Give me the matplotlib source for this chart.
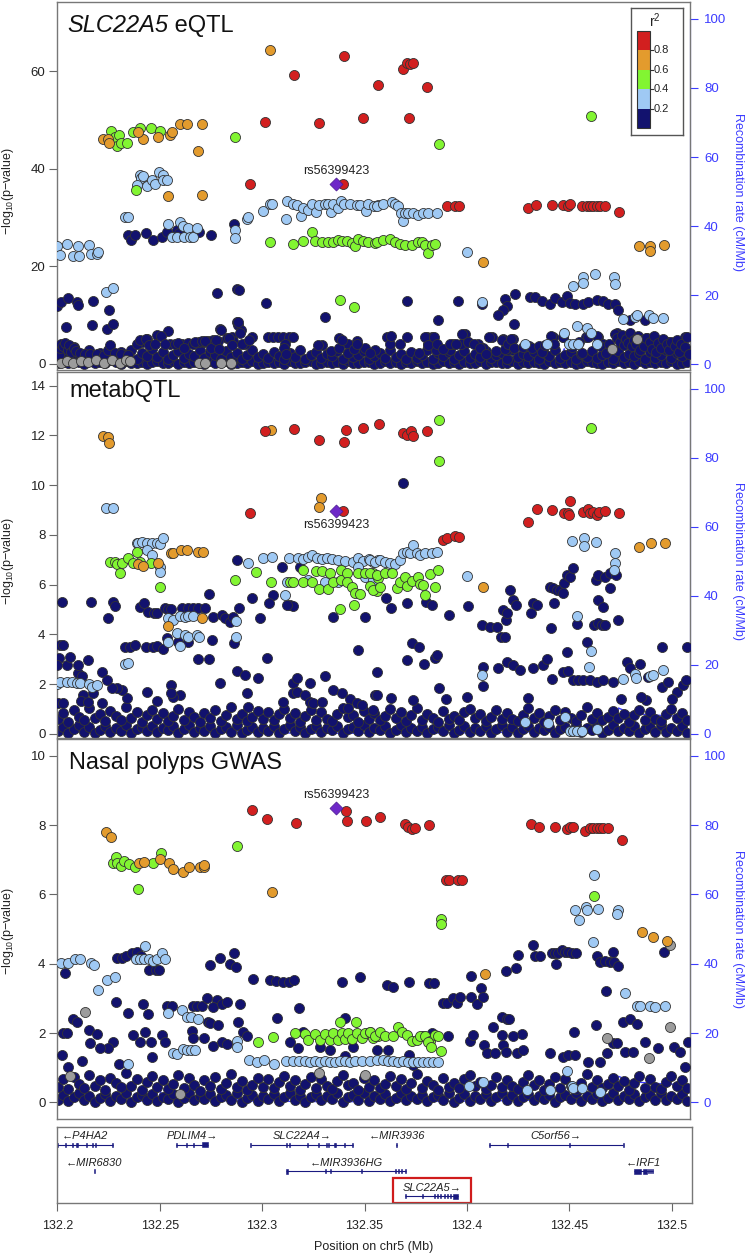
import numpy as np
import matplotlib.pyplot as plt
from matplotlib.patches import Rectangle

plt.rcParams['font.family'] = ['Liberation Sans', 'DejaVu Sans']
plt.rcParams['mathtext.fontset'] = 'custom'
plt.rcParams['mathtext.rm'] = 'Liberation Sans'
plt.rcParams['mathtext.it'] = 'Liberation Sans:italic'

# region on chr5 in Mb; SNP / gene positions below are kb from START_MB
START_MB = 132.2
END_MB = 132.5089

lead_snp = 'rs56399423'
lead_kb = 136.0
lead_p = [36.8, 8.96, 8.51]   # eQTL, metabQTL, nasal polyps

r2_breaks = [0.2, 0.4, 0.6, 0.8]

# ---------------- SLC22A5 eQTL ----------------
eqtl_red = [(140.1,63.2),(115.7,59.3),(156.4,57.2),(101.6,49.6),(127.8,49.4),(149.3,50.4),(94.1,37.0),(139.6,36.8),
            (168.6,60.4),(170.6,61.8),(172.2,61.5),(173.5,61.8),(171.9,50.4),(180.3,56.7),(190.1,32.4),(194.2,32.4),
            (196.3,32.4),(230.0,31.9),(233.9,32.5),(241.4,32.5),(247.1,32.5),(249.5,32.4),(250.3,32.8),(256.0,32.4),
            (258.5,32.4),(260.1,32.4),(261.7,32.4),(263.3,32.4),(265.0,32.4),(267.4,32.4),(274.2,31.2)]
eqtl_orange = [(103.8,64.4),(22.5,46.1),(24.9,46.1),(25.4,45.3),(42.0,46.1),(39.2,47.6),(49.3,46.5),(55.0,47.0),
               (55.8,47.6),(59.9,49.2),(63.5,49.2),(70.6,49.2),(68.8,43.7),(53.9,34.4),(70.5,34.7),(207.7,21.0),
               (284.2,24.1),(289.4,24.2),(289.4,23.1),(296.4,24.3)]
eqtl_green = [(26.2,47.8),(28.2,46.6),(30.3,47.0),(29.3,44.6),(30.9,45.3),(33.9,45.3),(36.8,47.6),(40.4,48.3),
              (45.6,48.3),(50.1,47.8),(38.4,35.7),(86.8,46.6),(138.0,13.1),(145.0,11.6),(186.4,45.1),(260.6,50.9),
              (103.8,25.1),(114.9,24.6),(119.8,25.3),(124.2,27.1),(125.8,25.3),(129.1,25.1),(132.3,25.1),(134.8,25.1),
              (137.2,25.4),(138.8,25.3),(141.3,25.3),(143.7,24.9),(145.3,24.1),(147.0,25.6),(149.4,25.3),(151.9,25.1),
              (155.1,24.9),(155.9,25.1),(159.2,25.4),(162.4,25.6),(164.9,25.1),(167.3,24.7),(169.8,24.4),(173.0,24.4),
              (176.3,25.1),(177.9,25.1),(179.5,24.4),(181.1,22.7),(182.8,24.4),(184.4,24.7)]
eqtl_lblue = [(0.0,24.1),(1.3,22.4),(4.6,24.6),(7.8,22.1),(10.7,22.1),(10.3,24.1),(15.6,24.4),(16.3,22.6),(19.5,22.6),
              (20.0,23.0),(23.8,14.8),(27.0,15.5),(33.0,30.1),(34.3,30.1),(40.4,38.8),(40.7,38.1),(42.0,38.6),(39.1,36.7),
              (43.6,36.4),(46.1,37.7),(47.7,37.0),(49.8,39.4),(51.8,38.8),(51.4,37.7),(53.4,37.7),(53.9,28.7),(55.8,26.1),
              (58.3,26.1),(59.9,29.2),(61.5,28.2),(61.8,26.1),(64.0,27.8),(64.8,26.1),(66.4,26.0),(68.0,27.8),(86.8,27.5),
              (86.8,25.9),(92.4,29.7),(93.3,30.1),(100.6,31.4),(103.8,32.8),(104.8,32.7),(111.7,29.7),(112.3,33.5),
              (115.2,32.8),(116.9,32.6),(118.8,30.3),(119.8,31.9),(122.6,31.6),(124.2,32.8),(126.3,31.2),(127.8,32.6),
              (130.7,32.8),(132.3,32.8),(133.6,31.2),(134.8,32.8),(137.2,31.9),(138.7,33.5),(140.1,32.8),(142.9,32.8),
              (146.2,32.6),(147.8,32.6),(150.7,31.4),(151.9,32.8),(154.6,32.3),(156.7,32.6),(155.9,32.4),(159.2,32.8),
              (163.2,33.3),(164.9,32.9),(166.5,32.3),(167.6,30.9),(168.6,29.4),(169.8,30.9),(171.4,30.9),(173.8,30.9),
              (176.3,30.6),(178.7,30.9),(181.1,30.9),(185.2,30.9),(200.0,23.0),(207.2,12.8),(251.6,16.0),(256.8,17.8),
              (256.8,16.7),(262.7,18.5),(272.0,17.8),(272.3,16.5),(276.4,9.2),(282.1,9.6),(282.9,10.0),(289.1,10.0),
              (291.0,9.4),(295.6,9.4),(228.4,4.2),(239.3,4.2),(247.4,6.3),(253.6,7.7),(258.5,7.3),(260.4,6.3),
              (263.7,4.2),(250.0,4.2),(252.0,4.2),(254.4,4.2)]
eqtl_navy = [(34.7,26.5),(35.8,25.4),(37.9,26.5),(43.1,26.8),(46.5,25.4),(51.3,26.1),(53.4,27.1),(58.6,27.5),(59.6,26.8),
             (69.3,27.0),(74.9,26.5),(86.4,28.7),(0.0,11.8),(1.6,12.8),(5.4,13.6),(9.4,12.8),(10.3,12.1),(17.3,12.9),
             (25.4,11.1),(4.2,7.5),(16.8,7.9),(24.4,7.1),(27.0,8.2),(77.8,14.5),(87.6,15.3),(88.9,15.2),(101.9,12.6),
             (130.7,9.6),(87.6,8.7),(88.4,8.0),(89.5,7.0),(79.4,7.1),(170.6,13.0),(195.8,13.0),(186.0,9.0),(223.5,14.4),
             (218.6,13.3),(219.4,11.9),(217.8,11.1),(215.3,10.0),(230.8,13.8),(233.2,13.8),(236.8,13.0),(240.6,12.3),
             (243.0,13.5),(246.3,12.8),(248.7,14.0),(250.3,12.6),(252.8,12.3),(256.8,12.3),(259.3,12.8),(263.3,13.1),
             (266.6,13.0),(269.0,12.4),(272.3,12.3),(273.9,11.1),(279.6,9.0),(287.0,9.0),(223.0,8.2),(207.2,12.4),
             (54.2,6.8),(48.5,5.9),(43.6,5.1),(41.2,4.6),(55.0,4.2),(57.5,4.2),(60.7,4.2),(64.0,4.4),(66.4,4.2),
             (69.3,4.6),(71.6,4.6),(73.7,4.8),(76.2,4.9),(78.6,4.8),(79.8,7.0),(82.7,5.3),(85.1,5.5),(85.9,4.8),
             (89.2,6.3),(91.6,4.2),(94.9,5.5),(103.0,5.6),(105.5,5.5),(107.9,5.5),(110.4,5.5),(113.3,5.5),(114.9,5.5),
             (111.2,4.2),(111.2,2.9),(129.1,3.9),(137.7,5.3),(142.1,4.2),(146.5,4.8),(150.2,3.2),(155.1,2.9),
             (160.8,5.5),(162.4,4.2),(170.6,5.5),(180.3,5.5),(182.8,5.5),(181.1,4.2),(184.9,2.9),(191.7,2.9),
             (193.0,4.2),(196.9,4.2),(199.1,6.2),(200.7,4.6),(205.6,4.2),(207.7,3.2),(212.1,5.5),(217.8,5.1),
             (222.6,5.1),(219.4,2.9),(242.2,5.6),(247.1,5.5),(258.1,5.5),(264.2,5.6),(266.6,4.2),(273.1,6.3),
             (276.4,4.2),(281.2,5.5),(284.5,4.9),(287.7,5.3),(291.0,4.9),(295.9,4.2),(298.3,4.6),(306.5,5.5),
             (0.8,1.8),(1.2,3.2),(1.6,4.0),(3.0,3.6),(4.0,4.3),(5.0,2.8),(5.6,3.9),(6.8,2.5),(8.0,3.3),(9.3,2.7),
             (11.3,2.2),(13.5,2.0),(16.0,2.1),(19.5,2.0),(23.0,1.9),(24.8,2.9),(25.6,3.8),(28.0,2.3),(31.0,2.0),
             (34.5,1.8),(39.0,4.2),(40.5,4.9),(43.5,5.2),(45.0,3.8),(47.5,4.2),(50.5,5.8),(52.5,4.1),(59.0,4.4),
             (62.0,3.3),(67.0,4.6),(70.5,4.7),(72.0,4.8),(75.0,3.2),(77.5,4.9),(79.0,3.0),(84.0,5.4),(85.5,3.8),
             (88.0,8.6),(90.0,4.1),(93.5,4.9),(110.5,3.3),(111.5,2.1),(127.5,3.9),(133.5,2.6),(137.5,3.2),
             (139.0,4.9),(142.0,2.3),(145.0,3.1),(146.5,4.0),(152.5,2.2),(163.0,5.8),(167.5,4.1),(176.5,2.2),
             (179.5,5.5),(181.0,3.8),(184.0,5.5),(185.5,4.2),(188.5,3.1),(191.5,4.2),(194.5,4.2),(197.5,6.2),
             (200.5,4.5),(203.5,4.2),(206.5,3.2),(209.5,2.0),(211.0,5.5),(214.0,2.6),(217.0,5.0),(218.5,3.0),
             (220.0,4.0),(221.5,5.1),(223.0,3.3),(227.5,3.4),(230.5,3.6),(232.0,3.3),(235.0,3.6),(236.5,2.5),
             (238.0,3.8),(241.0,5.7),(242.5,4.0),(247.0,5.5),(251.5,3.5),(254.5,4.6),(256.0,2.3),(259.0,5.6),
             (263.5,5.7),(265.0,3.6),(268.0,2.2),(269.5,4.1),(272.5,6.1),(273.5,5.3),(274.5,4.6),(275.5,6.0),
             (276.5,3.9),(277.5,5.2),(278.5,4.4),(279.5,6.3),(280.5,3.7),(281.5,5.0),(282.5,4.2),(283.5,5.8),
             (284.5,2.9),(285.5,4.9),(286.5,3.6),(287.5,5.4),(289.5,4.5),(290.5,3.1),(291.5,5.8),(292.5,2.4),
             (293.5,4.4),(294.5,3.3),(295.5,5.1),(297.5,4.0),(298.5,2.9),(299.5,4.6),(301.5,3.7),(302.5,5.0),
             (303.5,2.5),(304.5,4.2),(306.5,3.4),(307.5,5.5),(308.5,2.1)]
eqtl_gray = [(1.8,0.2),(4.8,0.6),(7.9,0.3),(11.8,0.7),(14.8,0.4),(19.0,0.9),(22.6,0.3),(26.8,0.8),(30.5,0.3),
             (33.6,0.9),(35.5,0.6),(69.0,0.3),(72.0,0.2),(80.0,0.3),(85.0,0.2),(271.0,3.0),(283.0,5.2)]

# shared positions of the many weak SNPs forming the dense floor of each panel
base_kb = [0.4,2.9,5.3,8.1,10.6,13.2,15.5,18.3,20.9,23.4,25.8,28.5,31.1,33.7,36.0,38.8,41.3,43.9,46.2,48.9,
           51.6,54.0,56.7,59.1,61.8,64.4,66.9,69.5,71.8,74.6,77.2,79.7,82.3,84.8,87.5,90.1,92.6,95.2,97.9,100.3,
           103.0,105.6,108.1,110.7,113.4,115.9,118.5,121.0,123.7,126.2,128.8,131.5,134.0,136.6,139.3,141.8,144.4,
           147.0,149.6,152.1,154.8,157.4,159.9,162.5,165.2,167.7,170.3,172.9,175.5,178.0,180.7,183.3,185.8,188.4,
           191.1,193.6,196.2,198.8,201.4,204.0,206.5,209.2,211.7,214.3,217.0,219.5,222.1,224.7,227.3,229.9,232.5,
           235.0,237.7,240.2,242.8,245.5,248.0,250.6,253.2,255.8,258.4,261.0,263.5,266.1,268.8,271.3,273.9,276.5,
           279.1,281.7,284.2,286.9,289.5,292.0,294.7,297.2,299.8,302.4,305.0,307.6]
eqtl_base_lo = [0.3,0.6,0.2,0.9,0.4,0.1,0.7,0.3,0.5,0.2,0.8,0.4,0.1,0.6,0.3,0.2,0.5,0.1,0.4,0.7,0.2,0.3,0.6,0.1,
                0.4,0.2,0.5,0.3,0.1,0.6,0.2,0.4,0.7,0.1,0.3,0.5,0.2,0.6,0.1,0.3,0.4,0.2,0.5,0.1,0.7,0.3,0.2,0.4,
                0.6,0.1,0.3,0.5,0.2,0.4,0.1,0.6,0.3,0.2,0.5,0.4,0.1,0.3,0.6,0.2,0.4,0.1,0.5,0.3,0.7,0.2,0.4,0.1,
                0.3,0.6,0.2,0.5,0.1,0.4,0.3,0.2,0.6,0.1,0.4,0.5,0.2,0.3,0.7,0.1,0.4,0.2,0.5,0.3,0.1,0.6,0.2,0.4,
                0.3,0.5,0.1,0.2,0.6,0.4,0.3,0.1,0.5,0.2,0.7,0.3,0.4,0.1,0.6,0.2,0.5,0.3,0.4,0.2,0.6,0.1,0.3,0.5]
eqtl_base_hi = [1.8,2.6,1.2,3.4,2.0,1.5,2.9,1.1,2.3,1.7,3.1,1.3,2.4,1.9,2.8,1.0,2.2,1.6,3.0,1.4,2.5,1.1,1.9,2.7,
                1.3,2.1,1.6,2.9,1.2,2.4,1.8,1.0,2.6,1.5,2.2,1.1,1.9,2.8,1.4,2.0,1.2,2.5,1.7,1.0,2.3,1.5,2.9,1.1,
                1.8,2.4,1.3,2.0,1.6,2.7,1.0,2.2,1.4,1.9,2.6,1.1,1.7,2.3,1.2,2.8,1.5,2.0,1.0,2.5,1.3,1.8,2.9,1.1,
                2.2,1.6,2.4,1.0,1.9,2.7,1.3,2.1,1.5,2.6,1.2,1.8,2.3,1.0,2.8,1.4,2.0,1.7,2.5,1.1,2.2,1.6,2.9,1.3,
                1.9,2.4,1.0,2.1,1.5,2.7,1.2,1.8,2.4,1.1,2.6,1.4,2.0,1.7,2.3,1.0,2.5,1.3,1.9,2.8,1.2,2.2,1.6,2.4]

# ---------------- metabQTL ----------------
metab_red = [(101.6,12.19),(115.7,12.25),(127.9,11.82),(141.0,12.22),(140.1,11.75),(149.4,12.29),(157.2,12.46),
             (94.1,8.87),(139.6,8.96),(168.6,12.11),(170.6,12.02),(172.5,12.19),(173.5,11.98),(180.3,12.19),
             (188.5,7.80),(190.4,7.86),(194.2,7.96),(196.3,7.90),(230.0,8.53),(234.0,9.03),(241.4,9.00),(247.6,8.90),
             (249.5,8.90),(250.0,8.80),(250.3,9.38),(256.5,8.94),(259.3,9.03),(260.1,8.87),(261.7,8.94),(263.3,8.80),
             (264.6,8.94),(267.4,8.98),(274.4,8.87)]
metab_orange = [(22.5,11.98),(24.9,11.95),(25.2,11.68),(104.2,12.22),(128.6,9.47),(127.9,9.14),(39.6,6.83),
                (42.0,6.77),(49.3,6.86),(55.5,7.26),(56.3,7.29),(60.4,7.40),(63.5,7.40),(68.8,7.30),(71.0,7.30),
                (53.9,4.35),(70.6,4.65),(207.7,5.89),(284.2,7.50),(289.7,7.66),(296.7,7.66)]
metab_green = [(38.7,7.30),(50.1,5.89),(25.7,6.93),(28.2,6.93),(29.3,6.83),(31.4,6.89),(34.7,7.06),(36.8,6.86),
               (30.6,6.48),(45.6,6.86),(40.4,6.93),(86.8,6.19),(97.0,6.52),(104.2,6.12),(113.6,6.12),(115.2,6.12),
               (119.8,6.59),(119.8,6.12),(124.2,6.12),(126.3,6.56),(127.9,5.81),(129.1,6.56),(132.3,5.81),(133.1,6.46),
               (134.8,6.12),(138.3,6.19),(138.3,6.59),(141.3,6.48),(138.0,5.01),(141.3,6.12),(143.7,5.92),(145.3,5.65),
               (147.8,5.63),(144.9,5.18),(147.0,6.48),(150.2,6.46),(152.7,5.95),(154.3,6.48),(155.9,5.76),(156.7,6.26),
               (186.5,12.62),(186.5,10.99),(260.6,12.29),(152.7,6.46),(154.3,5.79),(155.9,6.39),(157.5,5.92),
               (160.0,6.46),(163.2,6.46),(165.7,5.85),(167.3,6.12),(169.8,6.32),(170.6,5.95),(173.0,6.16),(176.3,6.30),
               (177.1,6.03),(178.7,5.99),(179.5,5.59),(182.0,6.43),(184.4,5.92),(186.0,6.59)]
metab_lblue = [(23.8,9.07),(27.3,9.07),(38.7,7.66),(39.6,7.69),(41.2,7.73),(43.6,7.69),(46.1,7.69),(48.5,7.69),
               (50.1,7.64),(51.8,7.86),(43.6,7.40),(46.1,7.19),(50.1,6.73),(50.1,6.52),(54.2,4.65),(56.6,4.58),
               (59.9,4.74),(62.3,4.72),(64.0,4.74),(66.1,4.74),(87.2,4.56),(87.2,3.91),(58.3,4.05),(62.3,3.98),
               (64.0,3.91),(68.0,3.98),(69.3,3.91),(53.9,3.71),(59.9,3.54),(0.0,2.01),(1.3,2.10),(4.6,2.10),(7.0,2.10),
               (9.4,2.06),(11.1,2.04),(15.6,2.01),(16.8,1.90),(19.5,1.97),(33.0,2.81),(34.7,2.87),(93.3,6.89),
               (100.6,7.06),(104.7,7.10),(113.3,7.06),(117.7,7.06),(120.1,7.02),(122.6,7.13),(124.2,7.19),(126.6,7.06),
               (129.1,7.02),(131.5,7.06),(134.0,7.02),(137.2,6.99),(140.5,6.97),(144.5,6.93),(147.0,7.06),(149.4,6.97),
               (152.3,7.05),(154.3,6.93),(156.7,6.99),(112.0,6.12),(111.2,5.59),(122.6,6.19),(130.7,6.12),(137.2,6.12),
               (147.0,6.73),(150.2,6.32),(154.3,6.19),(152.7,6.99),(155.1,6.93),(157.5,6.99),(160.0,6.93),(162.4,6.86),
               (164.9,6.83),(167.3,6.99),(168.9,7.26),(170.6,7.33),(172.2,7.29),(173.5,7.60),(175.5,7.26),(177.1,7.19),
               (179.5,7.29),(182.8,7.29),(185.2,7.33),(200.2,6.35),(251.5,7.77),(257.3,7.89),(257.3,7.56),(262.9,7.73),
               (272.3,7.29),(272.3,6.89),(272.0,6.59),(207.2,2.37),(282.1,2.40),(282.5,2.24),(289.4,2.33),(291.0,2.37),
               (295.9,2.57),(276.4,2.20),(253.9,4.76),(260.4,3.34),(259.8,2.71),(228.4,0.50),(239.7,0.46),(247.9,0.67),
               (250.3,0.13),(252.0,0.13),(253.6,0.13),(256.0,0.13),(263.7,0.19)]
metab_navy = [(2.1,5.32),(16.3,5.32),(24.9,4.65),(27.3,5.32),(28.2,5.14),(40.4,5.12),(42.3,5.25),(44.4,4.92),
              (47.2,4.85),(48.8,4.85),(52.6,5.05),(54.2,5.01),(55.3,5.01),(60.7,5.05),(64.0,5.05),(66.4,5.05),
              (68.8,5.05),(72.1,5.05),(74.2,5.63),(76.2,4.72),(80.2,4.78),(81.9,4.65),(84.3,4.51),(85.9,4.72),
              (88.9,5.05),(87.9,6.99),(94.9,5.45),(99.0,4.65),(105.5,5.59),(109.5,6.73),(113.6,5.18),(114.9,5.14),
              (112.3,5.18),(103.5,5.28),(118.5,6.73),(134.8,4.72),(150.2,4.72),(147.0,3.38),(155.9,2.51),(155.1,1.57),
              (1.3,3.58),(2.9,3.58),(15.1,2.97),(33.0,3.51),(35.5,3.51),(37.9,3.58),(43.3,3.48),(46.9,3.51),(48.5,3.54),
              (51.4,3.40),(53.4,3.85),(59.1,3.71),(64.0,3.71),(68.8,3.00),(74.2,3.00),(75.4,3.78),(86.4,3.67),
              (102.2,3.04),(98.1,2.24),(87.6,2.55),(91.6,2.37),(92.4,1.63),(93.3,1.10),(79.4,2.06),(59.9,1.57),
              (56.6,1.50),(55.3,1.97),(55.5,1.66),(48.5,1.34),(43.6,1.70),(33.9,1.43),(31.4,1.77),(29.0,1.84),
              (26.5,1.84),(21.6,2.51),(24.4,2.17),(17.6,1.63),(12.7,1.57),(11.6,1.34),(21.6,1.23),(10.3,2.44),
              (10.3,2.77),(4.6,2.77),(1.0,3.04),(0.0,2.77),(6.2,3.11),(11.9,2.33),(15.1,1.30),(0.5,1.23),(2.6,1.23),
              (134.8,1.77),(138.8,1.63),(142.9,1.39),(146.2,1.23),(148.6,1.17),(154.3,0.96),(142.1,1.03),(115.2,1.63),
              (115.2,2.04),(116.9,2.24),(116.9,1.70),(120.9,1.57),(123.4,1.30),(125.0,1.23),(129.1,1.30),(130.7,2.33),
              (110.4,1.30),(123.4,2.04),(168.6,10.08),(160.5,5.45),(162.8,5.05),(170.9,5.25),(180.0,5.32),(182.8,5.18),
              (191.4,4.78),(200.7,5.14),(207.2,4.38),(211.3,4.31),(214.5,4.31),(216.5,3.91),(218.6,3.91),(217.8,4.98),
              (219.1,4.58),(219.7,4.85),(221.0,5.79),(222.6,5.39),(224.0,5.18),(231.1,4.88),(232.4,5.25),(234.0,5.18),
              (240.6,5.92),(242.2,5.85),(243.8,5.79),(245.4,5.79),(246.7,5.65),(247.4,6.06),(248.7,6.39),(250.3,6.32),
              (251.6,6.66),(242.5,5.25),(240.9,4.25),(253.9,4.42),(263.0,6.19),(264.2,6.39),(267.4,6.32),(269.9,5.85),
              (269.9,6.46),(272.8,6.39),(273.9,4.58),(264.2,5.39),(266.6,5.12),(262.1,4.38),(264.2,4.45),(265.8,4.38),
              (267.4,4.38),(258.5,3.71),(248.7,3.31),(295.1,3.48),(173.0,3.64),(176.8,3.51),(170.6,2.97),(179.0,2.81),
              (186.5,1.84),(173.5,1.37),(184.4,3.04),(185.2,3.18),(155.9,1.57),(208.0,2.68),(208.0,1.93),(215.3,2.64),
              (219.4,2.91),(222.6,2.77),(225.9,2.57),(232.4,2.64),(237.3,2.77),(238.9,3.00),(241.4,2.20),(247.1,2.51),
              (249.2,2.55),(252.0,2.17),(254.4,2.17),(256.8,2.17),(260.1,2.17),(263.3,2.10),(266.6,2.17),(271.5,2.10),
              (278.0,2.91),(279.6,2.64),(284.5,2.81),(288.6,2.30),(287.4,1.37),(295.1,1.90),(298.3,2.10),(302.4,1.70),
              (305.7,1.97),(307.3,3.51),(307.0,2.17),(163.0,1.45),(190.0,1.40),(200.0,1.50),(230.0,1.45),(275.0,1.40),
              (285.0,1.50),(300.0,1.42)]
metab_base_lo = [0.12,0.30,0.05,0.22,0.38,0.10,0.27,0.02,0.18,0.33,0.08,0.25,0.14,0.36,0.04,0.20,0.29,0.11,0.34,
                 0.07,0.23,0.15,0.31,0.03,0.19,0.37,0.09,0.26,0.13,0.32,0.06,0.21,0.28,0.10,0.35,0.02,0.17,0.30,
                 0.08,0.24,0.14,0.33,0.05,0.22,0.38,0.11,0.27,0.04,0.19,0.31,0.09,0.25,0.16,0.34,0.03,0.21,0.29,
                 0.12,0.36,0.07,0.23,0.15,0.32,0.05,0.18,0.37,0.10,0.26,0.13,0.30,0.06,0.20,0.28,0.11,0.35,0.02,
                 0.17,0.33,0.08,0.24,0.14,0.31,0.04,0.22,0.38,0.10,0.27,0.05,0.19,0.34,0.09,0.25,0.16,0.30,0.03,
                 0.21,0.29,0.12,0.36,0.07,0.23,0.15,0.32,0.06,0.18,0.37,0.11,0.26,0.13,0.33,0.04,0.20,0.28,0.10,
                 0.35,0.08,0.24,0.14,0.31,0.05]
metab_base_hi = [0.62,0.85,0.48,0.95,0.70,0.55,1.05,0.66,0.80,0.52,0.92,0.74,0.58,1.10,0.64,0.88,0.50,0.78,0.98,
                 0.60,0.83,0.54,0.72,1.02,0.57,0.90,0.68,0.49,0.86,0.63,0.96,0.53,0.76,1.08,0.59,0.82,0.51,0.70,
                 0.94,0.61,0.87,0.55,0.79,1.00,0.65,0.84,0.48,0.73,0.97,0.58,0.89,0.62,0.52,0.81,1.04,0.67,0.75,
                 0.50,0.93,0.60,0.85,0.56,0.71,0.99,0.63,0.88,0.53,0.77,1.06,0.57,0.82,0.66,0.49,0.91,0.61,0.74,
                 0.55,0.87,1.01,0.64,0.80,0.51,0.69,0.95,0.59,0.86,0.62,0.54,0.78,1.03,0.66,0.83,0.50,0.72,0.97,
                 0.58,0.89,0.63,0.52,0.76,1.07,0.60,0.84,0.56,0.70,0.93,0.65,0.81,0.49,0.75,0.98,0.57,0.88,0.61,
                 0.53,0.79,1.00,0.64,0.85,0.55]

# ---------------- Nasal polyps GWAS ----------------
nasal_red = [(95.2,8.44),(102.5,8.17),(116.5,8.06),(140.8,8.42),(141.3,8.13),(150.6,8.13),(157.6,8.23),(169.8,8.04),
             (171.4,7.94),(173.0,7.88),(174.6,7.91),(181.6,8.01),(189.8,6.42),(191.4,6.42),(195.8,6.42),(197.4,6.42),
             (231.1,8.04),(235.2,7.94),(243.0,7.94),(248.7,7.88),(250.3,7.94),(251.6,7.96),(257.6,7.84),(260.1,7.91),
             (261.7,7.91),(263.3,7.91),(265.0,7.91),(266.6,7.91),(269.0,7.91),(275.6,7.57)]
nasal_orange = [(23.8,7.79),(26.0,7.65),(40.0,6.92),(42.3,6.93),(50.1,7.02),(54.7,6.90),(56.3,6.73),(61.2,6.66),
                (64.5,6.79),(69.7,6.80),(71.6,6.79),(71.6,6.85),(105.0,6.07),(208.8,3.70),(285.3,4.91),(290.7,4.76),
                (297.9,4.67)]
nasal_green = [(27.0,6.92),(28.6,7.07),(29.0,6.92),(31.1,6.82),(32.6,6.97),(35.2,6.87),(37.9,6.80),(46.5,6.92),
               (50.8,7.19),(39.6,6.16),(87.6,7.41),(187.2,5.28),(187.2,5.15),(262.1,5.96),(116.0,1.99),(120.9,1.97),
               (122.6,1.80),(125.8,1.97),(128.3,1.80),(130.7,1.97),(133.1,1.80),(134.8,1.99),(137.2,1.80),(138.8,1.99),
               (140.5,1.82),(142.1,1.99),(143.7,1.82),(146.2,1.99),(148.6,1.85),(150.2,1.99),(152.7,2.04),(154.3,1.85),
               (156.7,1.90),(138.0,2.33),(145.8,2.33),(105.5,1.88),(97.8,1.73),(152.7,2.04),(155.1,1.90),(157.5,2.04),
               (160.0,1.92),(164.1,1.92),(166.5,2.17),(168.1,2.04),(170.6,1.94),(173.0,1.78),(175.5,1.80),(177.1,1.92),
               (179.5,1.92),(182.0,1.78),(184.4,1.94),(186.0,1.90),(181.1,1.75),(182.3,1.59),(187.2,1.49)]
nasal_lblue = [(1.6,4.01),(5.4,4.01),(8.6,4.13),(11.1,4.13),(16.3,4.01),(17.9,3.97),(20.0,3.24),(24.4,3.53),
               (28.2,3.63),(42.8,4.51),(38.4,4.13),(40.4,4.13),(42.3,4.13),(44.9,4.13),(46.9,4.09),(48.5,4.13),
               (50.9,4.32),(52.6,4.13),(54.2,2.59),(60.7,2.67),(63.2,2.47),(65.1,2.47),(68.8,2.40),(56.6,1.43),
               (58.3,1.40),(61.2,1.53),(63.5,1.51),(65.1,1.51),(67.2,1.51),(34.7,1.10),(87.9,1.78),(87.9,1.61),
               (93.8,1.22),(97.3,1.15),(101.1,1.22),(105.8,1.11),(111.7,1.19),(115.2,1.19),(118.2,1.19),(120.9,1.19),
               (123.4,1.17),(125.8,1.19),(128.3,1.17),(130.7,1.19),(133.1,1.17),(135.6,1.17),(138.0,1.19),(140.5,1.19),
               (142.9,1.17),(145.3,1.19),(148.6,1.19),(152.7,1.19),(155.9,1.22),(159.2,1.22),(161.6,1.20),(164.1,1.20),
               (166.5,1.17),(168.9,1.20),(171.4,1.17),(173.8,1.15),(176.3,1.15),(178.7,1.15),(181.1,1.15),(183.6,1.15),
               (186.0,1.15),(262.1,6.56),(252.8,5.55),(254.9,5.25),(258.1,5.65),(258.5,5.55),(264.2,5.57),(273.9,5.55),
               (273.4,5.44),(261.4,4.64),(277.2,3.15),(282.9,2.78),(284.5,2.78),(289.4,2.78),(291.8,2.76),(296.7,2.78),
               (201.2,0.47),(208.0,0.60),(229.5,0.36),(240.6,0.36),(248.7,0.89),(251.1,0.47),(252.0,0.40),(256.0,0.40),
               (265.0,0.31)]
nasal_navy = [(3.7,3.74),(29.0,4.16),(31.4,4.16),(33.5,4.23),(36.3,4.30),(38.7,4.35),(40.7,4.21),(44.9,3.82),
              (48.2,3.82),(49.8,3.82),(74.5,3.97),(79.4,4.17),(84.3,3.99),(86.4,4.32),(87.2,3.92),(95.7,3.55),
              (103.8,3.53),(106.8,3.51),(110.0,3.46),(113.3,3.46),(115.6,3.53),(118.0,2.71),(107.4,2.43),(138.8,3.48),
              (147.8,3.61),(140.5,2.43),(28.6,2.91),(34.7,2.57),(42.0,2.84),(44.4,2.55),(53.7,2.78),(55.8,2.78),
              (66.1,2.78),(68.0,2.78),(70.5,2.78),(72.9,3.00),(77.8,2.95),(76.2,2.74),(80.2,2.84),(82.7,2.91),
              (89.2,2.84),(73.7,2.33),(74.5,2.28),(88.4,2.33),(78.6,2.23),(7.5,2.40),(9.4,2.33),(2.9,1.99),(4.6,1.99),
              (15.6,2.09),(19.5,1.97),(27.3,1.75),(24.9,1.56),(20.8,1.56),(16.0,1.70),(37.1,1.94),(40.4,1.75),
              (45.6,1.75),(42.8,2.04),(50.9,1.94),(52.6,1.75),(65.6,2.06),(66.1,1.85),(71.6,1.85),(76.2,1.63),
              (80.2,1.75),(82.7,1.68),(90.5,2.04),(92.4,1.90),(113.6,1.75),(117.7,1.56),(120.1,2.04),(128.3,1.61),
              (133.1,1.51),(140.5,1.34),(144.5,1.61),(2.1,1.37),(5.4,1.03),(12.0,1.20),(30.0,1.10),(46.0,1.30),
              (232.1,4.54),(233.2,4.21),(235.7,4.21),(225.1,4.25),(224.0,3.87),(219.1,3.80),(241.4,4.32),(243.0,4.32),
              (244.6,4.32),(246.3,4.40),(247.9,4.35),(249.5,4.35),(251.1,4.32),(253.3,4.30),(243.5,3.98),(263.7,4.21),
              (265.0,4.06),(267.4,4.08),(269.9,4.04),(271.8,4.06),(273.9,3.94),(271.2,4.35),(296.2,4.35),(267.9,3.20),
              (263.0,2.23),(252.3,2.02),(276.0,2.33),(279.6,2.40),(282.9,2.26),(160.8,3.39),(163.7,3.34),(171.9,3.46),
              (181.6,3.44),(183.9,3.44),(188.2,2.86),(190.4,2.86),(193.0,3.00),(195.3,2.86),(196.6,3.05),(201.8,3.65),
              (201.8,3.05),(204.8,2.84),(206.7,3.29),(207.7,3.05),(212.9,2.16),(217.0,2.45),(219.4,2.40),(220.7,2.40),
              (226.7,1.97),(222.6,1.92),(217.0,1.94),(201.5,1.78),(203.1,1.94),(208.3,1.66),(209.6,1.41),(213.7,1.41),
              (217.8,1.66),(219.1,1.46),(224.3,1.41),(227.5,1.51),(240.6,1.43),(247.1,1.32),(249.5,1.37),(252.8,1.37),
              (259.3,1.17),(265.0,1.17),(268.2,1.41),(271.2,1.70),(273.1,1.70),(277.2,1.46),(281.2,1.46),(287.0,1.75),
              (293.5,1.56),(301.1,1.61),(304.0,1.46),(308.1,1.75),(306.5,1.03),(190.9,1.92),(161.6,1.51),(155.9,1.51),
              (178.7,1.90),(182.8,1.99),(171.9,1.37),(173.8,1.08)]
nasal_gray = [(13.5,2.61),(268.5,1.85),(289.1,1.27),(299.2,2.18),(299.2,4.54),(6.0,0.75),(60.0,0.25),(128.0,0.85),
              (150.0,0.80)]
nasal_base_lo = [0.08,0.22,0.03,0.15,0.28,0.06,0.19,0.01,0.12,0.25,0.05,0.17,0.10,0.27,0.02,0.14,0.21,0.07,0.24,
                 0.04,0.16,0.11,0.23,0.02,0.13,0.26,0.06,0.18,0.09,0.24,0.03,0.15,0.20,0.07,0.27,0.01,0.12,0.22,
                 0.05,0.17,0.10,0.25,0.03,0.16,0.28,0.08,0.19,0.02,0.14,0.23,0.06,0.18,0.11,0.26,0.02,0.15,0.21,
                 0.08,0.27,0.05,0.17,0.10,0.24,0.03,0.13,0.28,0.07,0.19,0.09,0.22,0.04,0.14,0.20,0.08,0.26,0.01,
                 0.12,0.25,0.05,0.18,0.10,0.23,0.03,0.16,0.28,0.07,0.20,0.04,0.14,0.25,0.06,0.18,0.11,0.22,0.02,
                 0.15,0.21,0.09,0.27,0.05,0.17,0.11,0.24,0.04,0.13,0.27,0.08,0.19,0.10,0.25,0.03,0.14,0.21,0.07,
                 0.26,0.06,0.18,0.10,0.23,0.04]
nasal_base_hi = [0.45,0.66,0.38,0.72,0.52,0.41,0.80,0.48,0.63,0.36,0.70,0.55,0.43,0.84,0.47,0.67,0.35,0.58,0.76,
                 0.44,0.64,0.39,0.53,0.79,0.42,0.69,0.50,0.34,0.65,0.46,0.73,0.37,0.56,0.82,0.43,0.62,0.36,0.51,
                 0.71,0.45,0.66,0.40,0.59,0.77,0.48,0.63,0.35,0.54,0.74,0.42,0.68,0.46,0.38,0.61,0.80,0.49,0.56,
                 0.36,0.70,0.44,0.65,0.41,0.52,0.75,0.47,0.67,0.38,0.57,0.81,0.42,0.62,0.49,0.35,0.69,0.45,0.55,
                 0.40,0.66,0.78,0.47,0.60,0.37,0.51,0.72,0.43,0.65,0.46,0.39,0.58,0.79,0.49,0.63,0.36,0.53,0.74,
                 0.42,0.68,0.47,0.38,0.56,0.83,0.44,0.64,0.41,0.52,0.71,0.48,0.61,0.35,0.55,0.76,0.42,0.67,0.45,
                 0.39,0.59,0.77,0.47,0.65,0.40]

# recombination rate (cM/Mb)
recomb_kb = [0, 15, 30, 45, 49, 50.5, 52, 70, 85, 86.5, 88, 105, 108, 110, 130, 160, 190, 210, 230, 245, 247.5,
             249, 252, 262, 273, 274, 280, 290, 309]
recomb_rate = [0.8, 0.5, 0.3, 0.4, 0.6, 3.0, 0.5, 0.3, 0.5, 3.5, 0.4, 0.3, 2.0, 0.3, 0.2, 0.2, 0.3, 0.4, 0.6, 0.8,
               4.5, 1.0, 0.6, 0.5, 0.8, 7.5, 6.0, 5.5, 5.0]

# genes
gene_names = ['P4HA2', 'PDLIM4', 'SLC22A4', 'MIR3936', 'C5orf56', 'MIR6830', 'MIR3936HG', 'IRF1', 'SLC22A5']
gene_start = [0.0, 57.8, 94.4, 165.5, 210.8, 17.8, 111.7, 281.6, 169.8]
gene_end = [27.4, 73.7, 144.2, 165.9, 276.4, 18.1, 170.1, 291.0, 195.8]
gene_strand = ['-', '+', '+', '-', '+', '-', '-', '-', '+']
gene_row = [0, 0, 0, 0, 0, 1, 1, 1, 2]
gene_exons = [[(0, 0.5), (3.6, 4.1), (7.3, 7.8), (8.9, 9.4), (9.7, 10.2), (13.8, 14.3), (17.1, 17.6), (18.3, 18.8), (26.5, 27.4)],
              [(57.8, 58.3), (62.6, 63.1), (66.2, 66.7), (70.5, 73.7)],
              [(94.3, 94.8), (111.8, 112.3), (113.1, 113.6), (121.9, 122.4), (127.2, 127.7), (131.3, 131.8),
               (132.4, 132.9), (135.0, 135.5), (135.8, 136.3), (140.2, 140.7), (143.8, 144.3)],
              [(165.5, 165.9)],
              [(210.8, 211.3), (219.7, 220.2), (249.8, 250.3), (276.0, 276.5)],
              [(17.8, 18.3)],
              [(111.7, 112.8), (130.8, 131.3), (133.2, 133.7), (148.4, 148.9), (164.7, 165.2), (166.3, 166.8),
               (167.9, 168.4), (169.7, 170.2)],
              [(281.6, 285.0), (286.0, 288.0), (288.6, 289.1), (289.6, 290.1), (290.6, 291.1)],
              [(169.8, 170.3), (178.1, 178.6), (183.7, 184.2), (185.3, 185.8), (187.0, 187.5), (188.6, 189.1),
               (190.2, 190.7), (191.8, 192.3), (193.4, 195.8)]]
boxed_gene = 'SLC22A5'
x_ticks = [132.2, 132.25, 132.3, 132.35, 132.4, 132.45, 132.5]

# ---------------- drawing ----------------
W, H = 747, 1256
C_NAVY = '#12126E'
C_LBLUE = '#9FC9F4'
C_GREEN = '#82F532'
C_ORANGE = '#E39B2D'
C_RED = '#D21F1F'
C_GRAY = '#9C9C9C'
C_LEAD = '#6E28C8'
C_EDGE = '#333333'
C_REC = '#3C3CFF'
r2_colors = [C_NAVY, C_LBLUE, C_GREEN, C_ORANGE, C_RED]


def fx(px):
    return px / W


def fy(py):
    return 1 - py / H


def to_mb(kb):
    return START_MB + np.asarray(kb, dtype=float) / 1000.0


def dots(ax, pts, color, z):
    if not pts:
        return
    kb, y = zip(*pts)
    ax.scatter(to_mb(kb), y, s=52, c=color, edgecolors=C_EDGE, linewidths=0.6, zorder=z)


fig = plt.figure(figsize=(W / 100, H / 100), dpi=100)
renderer = fig.canvas.get_renderer()

panels = [
    dict(top=2, bot=370, ylim=(-1.23, 74.21), rlim=(-1.65, 104.9), yticks=[0, 20, 40, 60],
         groups=[eqtl_navy, eqtl_gray, eqtl_lblue, eqtl_green, eqtl_orange, eqtl_red],
         base=(eqtl_base_lo, eqtl_base_hi), lead=lead_p[0], lab_off=9.5,
         title=('SLC22A5', ' eQTL'), title_xy=(67, 31.7), ylab_c=191, rlab_c=191.7),
    dict(top=371.7, bot=738.3, ylim=(-0.173, 14.56), rlim=(-1.25, 104.9), yticks=list(range(0, 15, 2)),
         groups=[metab_navy, [], metab_lblue, metab_green, metab_orange, metab_red],
         base=(metab_base_lo, metab_base_hi), lead=lead_p[1], lab_off=-9.8,
         title=('', 'metabQTL'), title_xy=(69, 396.7), ylab_c=561, rlab_c=560.5),
    dict(top=739.3, bot=1118.8, ylim=(-0.476, 10.48), rlim=(-4.76, 104.8), yticks=list(range(0, 11, 2)),
         groups=[nasal_navy, nasal_gray, nasal_lblue, nasal_green, nasal_orange, nasal_red],
         base=(nasal_base_lo, nasal_base_hi), lead=lead_p[2], lab_off=9.3,
         title=('', 'Nasal polyps GWAS'), title_xy=(69, 769.3), ylab_c=931, rlab_c=929),
]

AX_L, AX_R = 57.3, 690.0
group_colors = [C_NAVY, C_GRAY, C_LBLUE, C_GREEN, C_ORANGE, C_RED]

for p in panels:
    ax = fig.add_axes([fx(AX_L), fy(p['bot']), (AX_R - AX_L) / W, (p['bot'] - p['top']) / H])
    ax2 = ax.twinx()
    ax.set_zorder(ax2.get_zorder() + 1)
    ax.patch.set_visible(False)

    ax2.plot(to_mb(recomb_kb), recomb_rate, color=C_REC, lw=1.0)
    ax2.set_ylim(*p['rlim'])
    ax2.set_yticks([0, 20, 40, 60, 80, 100])
    ax2.tick_params(axis='y', colors=C_REC, labelcolor=C_REC, length=6, width=0.8, labelsize=9.5, pad=4)
    for side in ['top', 'bottom', 'left']:
        ax2.spines[side].set_visible(False)
    ax2.spines['right'].set_color(C_REC)
    ax2.spines['right'].set_bounds(0, 100)

    for row in p['base']:
        n = min(len(base_kb), len(row))
        ax.scatter(to_mb(base_kb[:n]), row[:n], s=52, c=C_NAVY, edgecolors=C_EDGE, linewidths=0.6, zorder=2)
    for i, (pts, col) in enumerate(zip(p['groups'], group_colors)):
        dots(ax, pts, col, 3 + i)
    ax.scatter(to_mb([lead_kb]), [p['lead']], s=44, marker='D', c=C_LEAD, edgecolors='#4A1A90',
               linewidths=0.5, zorder=10)
    ax.annotate(lead_snp, (to_mb(lead_kb), p['lead']), xytext=(0, p['lab_off']), textcoords='offset points',
                ha='center', va='center', fontsize=9, color='#222222', zorder=11)

    ax.set_xlim(START_MB, END_MB)
    ax.set_ylim(*p['ylim'])
    ax.set_xticks([])
    ax.set_yticks(p['yticks'])
    ax.tick_params(axis='y', length=6, width=0.8, color='#666666', labelcolor='#222222', labelsize=9.5, pad=2.5)
    for s in ax.spines.values():
        s.set_color('#777777')
        s.set_linewidth(1.0)

    tx, ty = p['title_xy']
    it_part, rm_part = p['title']
    x_next = fx(tx)
    if it_part:
        t_it = fig.text(fx(tx), fy(ty), it_part, fontsize=17, style='italic', va='baseline', ha='left',
                        color='#111111')
        x_next = t_it.get_window_extent(renderer).x1 / fig.bbox.width
    fig.text(x_next, fy(ty), rm_part, fontsize=17, va='baseline', ha='left', color='#111111')
    fig.text(fx(8.5), fy(p['ylab_c']), r'$-$log$_{10}$(p$-$value)', rotation=90, ha='center', va='center',
             fontsize=9, color='#222222')
    fig.text(fx(737.5), fy(p['rlab_c']), 'Recombination rate (cM/Mb)', rotation=270, ha='center', va='center',
             fontsize=9, color=C_REC)

# r^2 legend inside the first panel
leg = fig.add_axes([fx(630.7), fy(135), (683.3 - 630.7) / W, (135 - 8.3) / H])
leg.set_xlim(0, 52.6)
leg.set_ylim(0, 126.7)
leg.set_xticks([])
leg.set_yticks([])
for s in leg.spines.values():
    s.set_color('#555555')
    s.set_linewidth(1.0)
for i, col in enumerate(r2_colors):
    leg.add_patch(Rectangle((6.3, 6.7 + 19.5 * i), 13, 19.5, fc=col, ec='none'))
leg.add_patch(Rectangle((6.3, 6.7), 13, 97.5, fc='none', ec='#333333', lw=0.8))
for i, b in enumerate(r2_breaks):
    yb = 6.7 + 19.5 * (i + 1)
    leg.plot([19.3, 22.3], [yb, yb], color='#333333', lw=0.8)
    leg.text(23.3, yb, f'{b:.1f}', va='center', ha='left', fontsize=8, color='#222222')
leg.text(24.3, 114.3, r'r$^2$', ha='center', va='center', fontsize=10, color='#222222')

# gene track
gax = fig.add_axes([fx(AX_L), fy(1203.3), (692 - AX_L) / W, 76 / H])
gax.set_xlim(START_MB, START_MB + (692 - AX_L) / 2048)
gax.set_ylim(0, 76)
gax.set_yticks([])
row_y = [58.6, 32.3, 7.3]
for name, s0, s1, strand, row, exons in zip(gene_names, gene_start, gene_end, gene_strand, gene_row, gene_exons):
    yy = row_y[row]
    gax.plot(to_mb([s0, s1]), [yy, yy], color='#1A1A80', lw=0.8, solid_capstyle='butt')
    for e0, e1 in exons:
        big = (e1 - e0) > 1.0
        h = 5.0 if big else 4.0
        gax.add_patch(Rectangle((to_mb(e0), yy - h / 2), (e1 - e0) / 1000, h, fc='#1A1A80', ec='#1A1A80', lw=0.4))
    label = ('\u2190' + name) if strand == '-' else (name + '\u2192')
    gax.text(to_mb((s0 + s1) / 2), yy + 8.3, label, ha='center', va='center', fontsize=8,
             style='italic', color='#222222')
    if name == boxed_gene:
        gax.add_patch(Rectangle((to_mb(164.0), 0.6), 0.0382, 25.0, fc='none', ec='#D01C1C', lw=1.6))
gax.set_xticks(x_ticks)
gax.set_xticklabels([f'{t:g}' for t in x_ticks])
gax.tick_params(axis='x', length=6, width=0.8, color='#666666', labelcolor='#222222', labelsize=9, pad=6)
for s in gax.spines.values():
    s.set_color('#777777')
    s.set_linewidth(1.0)
fig.text(fx(374), fy(1247), 'Position on chr5 (Mb)', ha='center', va='center', fontsize=9, color='#222222')

fig.savefig('out.png', dpi=100)
